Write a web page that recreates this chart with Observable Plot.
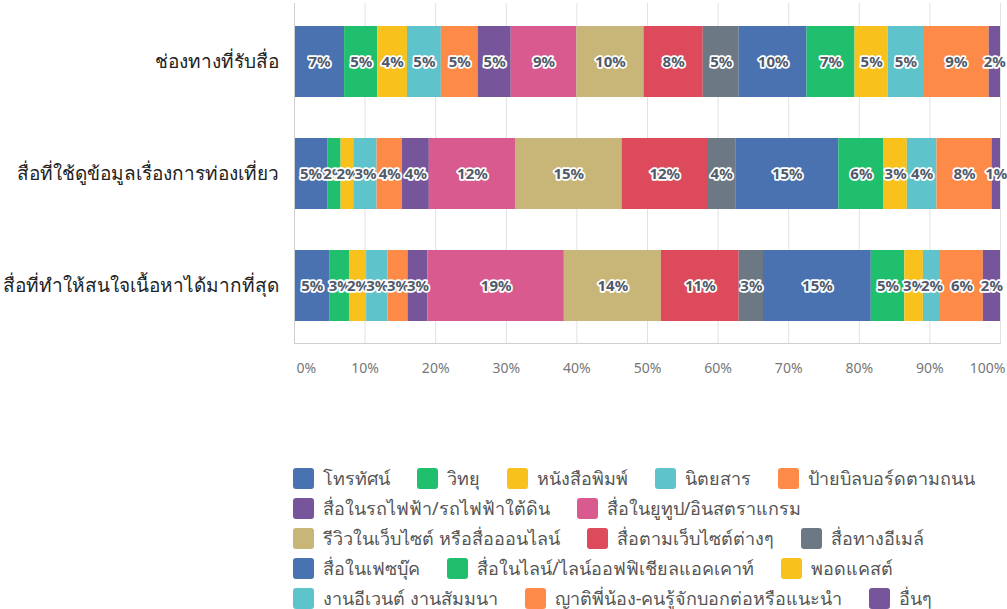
<!DOCTYPE html>
<html>
<head>
<meta charset="utf-8">
<script src="https://cdn.jsdelivr.net/npm/d3@7"></script>
<script src="https://cdn.jsdelivr.net/npm/@observablehq/plot@0.6"></script>
<style>
  html, body { margin: 0; padding: 0; background: #fff; }
  body { width: 1007px; height: 609px; overflow: hidden; font-family: "Noto Sans", sans-serif; }
  #legend { margin-left: 293px; margin-top: 77px; width: 712px; display: flex; flex-wrap: wrap; column-gap: 27px; row-gap: 8px; }
  .item { display: flex; align-items: center; font-size: 18px; color: #555; height: 22px; white-space: nowrap; }
  .sw { width: 21px; height: 21px; border-radius: 3px; margin-right: 9px; flex: none; }
</style>
</head>
<body>
<div id="chart"></div>
<div id="legend"></div>
<script>
const groups = ["ช่องทางที่รับสื่อ", "สื่อที่ใช้ดูข้อมูลเรื่องการท่องเที่ยว", "สื่อที่ทำให้สนใจเนื้อหาได้มากที่สุด"];
const categories = [
  "โทรทัศน์", "วิทยุ", "หนังสือพิมพ์", "นิตยสาร", "ป้ายบิลบอร์ดตามถนน",
  "สื่อในรถไฟฟ้า/รถไฟฟ้าใต้ดิน", "สื่อในยูทูป/อินสตราแกรม",
  "รีวิวในเว็บไซต์ หรือสื่อออนไลน์", "สื่อตามเว็บไซต์ต่างๆ", "สื่อทางอีเมล์",
  "สื่อในเฟซบุ๊ค", "สื่อในไลน์/ไลน์ออฟฟิเชียลแอคเคาท์", "พอดแคสต์",
  "งานอีเวนต์ งานสัมมนา", "ญาติพี่น้อง-คนรู้จักบอกต่อหรือแนะนำ", "อื่นๆ"
];
const colors = [
  "#4a72b0", "#1fbf6e", "#f9c11c", "#5fc3cb", "#fd8a47",
  "#77559b", "#d85a8f", "#c7b677", "#dc4a5b", "#6c7985",
  "#4a72b0", "#1fbf6e", "#f9c11c", "#5fc3cb", "#fd8a47", "#77559b"
];
// percentages per group, in category order
const values1 = [7.1, 4.7, 4.2, 4.8, 5.2, 4.7, 9.3, 9.5, 8.4, 5.1, 9.6, 6.8, 4.7, 5.0, 9.3, 1.6];
const values2 = [4.7, 1.9, 1.8, 3.3, 3.6, 3.8, 12.2, 15.1, 12.1, 4.0, 14.6, 6.4, 3.3, 4.2, 7.8, 1.2];
const values3 = [5.0, 2.7, 2.4, 3.0, 2.8, 2.8, 19.1, 13.6, 10.9, 3.4, 15.1, 4.7, 2.6, 2.4, 6.0, 2.4];
const xTicks = [0, 0.1, 0.2, 0.3, 0.4, 0.5, 0.6, 0.7, 0.8, 0.9, 1];

const seriesValues = [values1, values2, values3];
const data = [];
groups.forEach((g, gi) => categories.forEach((c, ci) => data.push({group: g, category: c, value: seriesValues[gi][ci]})));

const stackOpts = {x: "value", y: "group", z: "category", offset: "normalize", order: categories};
const fmt = d3.format(".0%");
const axisStyle = {tickFormat: fmt, tickSize: 0, tickPadding: 20, fontSize: 14, color: "#777", label: null};

const plot = Plot.plot({
  width: 1007,
  height: 390,
  marginLeft: 294,
  marginRight: 7,
  marginTop: 3,
  marginBottom: 47,
  style: {fontFamily: "Noto Sans, sans-serif", background: "#fff"},
  x: {domain: [0, 1], ticks: xTicks, tickFormat: fmt, label: null},
  y: {domain: groups, paddingInner: 0.37, paddingOuter: 0.2, label: null},
  color: {domain: categories, range: colors},
  marks: [
    Plot.gridX(xTicks, {stroke: "#e2e2e2", strokeOpacity: 1}),
    Plot.barX(data, Plot.stackX({...stackOpts, fill: "category", inset: 0})),
    Plot.text(data, Plot.stackX({
      ...stackOpts,
      text: d => Math.round(d.value) + "%",
      fill: "#505a6a",
      stroke: "white",
      strokeWidth: 3.5,
      fontSize: 15,
      fontWeight: "bold"
    })),
    Plot.ruleX([0], {stroke: "#d0d0d0"}),
    Plot.frame({anchor: "bottom", stroke: "#d0d0d0"}),
    Plot.axisX(xTicks.slice(0, 1), {...axisStyle, textAnchor: "start", dx: 2}),
    Plot.axisX(xTicks.slice(1, -1), axisStyle),
    Plot.axisX(xTicks.slice(-1), {...axisStyle, textAnchor: "end", dx: 5}),
    Plot.axisY({tickSize: 0, tickPadding: 16, fontSize: 19, color: "#222", label: null})
  ]
});
document.getElementById("chart").appendChild(plot);

const legend = document.getElementById("legend");
categories.forEach((c, i) => {
  const it = document.createElement("div");
  it.className = "item";
  const sw = document.createElement("span");
  sw.className = "sw";
  sw.style.background = colors[i];
  it.appendChild(sw);
  it.appendChild(document.createTextNode(c));
  legend.appendChild(it);
});
</script>
</body>
</html>
